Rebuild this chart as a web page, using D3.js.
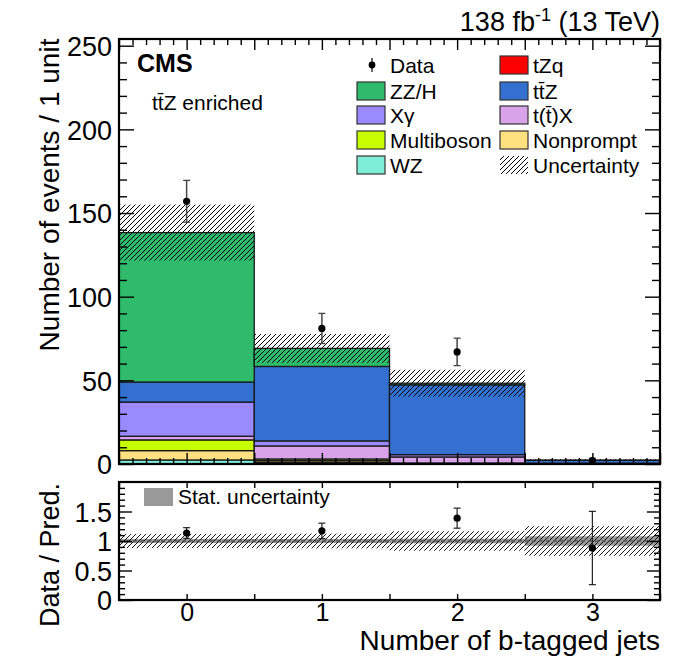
<!DOCTYPE html>
<html><head><meta charset="utf-8">
<script src="https://cdn.jsdelivr.net/npm/d3@7"></script>
<style>
body{margin:0;background:#fff}
text{font-family:"Liberation Sans",Arial,Helvetica,sans-serif;fill:#000}
</style>
</head><body><svg id="c" width="684" height="658"></svg>
<script>
// ---------------- data ----------------
const binCenters = [0, 1, 2, 3];
const xTickLabels = ["0", "1", "2", "3"];
const yTicksMain = [0, 50, 100, 150, 200, 250];
const yTicksRatio = [0, 0.5, 1, 1.5];
const yTickLabelsRatio = ["0", "0.5", "1", "1.5"];

// stacked backgrounds, bottom to top
const wz         = [2.4, 1.0, 0.2, 0.05];
const nonprompt  = [5.6, 1.0, 0.2, 0.05];
const multiboson = [6.4, 1.0, 0.2, 0.05];
const ttX        = [2.2, 7.8, 3.6, 0.2];
const xgamma     = [20.4, 3.0, 1.4, 0.1];
const ttZ        = [12.0, 44.5, 41.7, 1.8];
const zzh        = [89.3, 10.8, 1.0, 0.02];
const tzq        = [0.0, 0.0, 0.0, 0.0];

const totalUnc   = [16.7, 8.6, 8.0, 0.57];   // absolute, events
const statRelUnc = [0.035, 0.035, 0.04, 0.08];

const dataVals = [157, 81, 67, 2];
const dataErr  = [12.5, 9.0, 8.2, 1.41];

const processNames  = ["WZ", "Nonprompt", "Multiboson", "t(t\u0304)X", "X\u03b3", "tt\u0304Z", "ZZ/H", "tZq"];
const processColors = ["#7fedd7", "#ffe080", "#c8ff00", "#d8a3e8", "#9b8aff", "#3370d0", "#2fbb6b", "#ff0000"];
const processValues = [wz, nonprompt, multiboson, ttX, xgamma, ttZ, zzh, tzq];

// ---------------- layout ----------------
const svg = d3.select("#c");
const L = 119, R = 660;
const mainTop = 39, mainBot = 464;
const ratTop = 482, ratBot = 600;

const x  = d3.scaleLinear().domain([-0.5, 3.5]).range([L, R]);
const y  = d3.scaleLinear().domain([0, 254]).range([mainBot, mainTop]);
const yr = d3.scaleLinear().domain([0, 2]).range([ratBot, ratTop]);

const defs = svg.append("defs");
function hatch(id, sw) {
  const p = defs.append("pattern").attr("id", id).attr("patternUnits", "userSpaceOnUse")
    .attr("width", 5).attr("height", 5);
  p.append("path").attr("d", "M-1,1 l2,-2 M0,5 l5,-5 M4,6 l2,-2")
    .attr("stroke", "#000").attr("stroke-width", sw).attr("fill", "none");
}
hatch("hatch", 1.0);
hatch("hatchR", 0.9);

const clipM = defs.append("clipPath").attr("id", "clipM");
clipM.append("rect").attr("x", L).attr("y", mainTop).attr("width", R - L).attr("height", mainBot - mainTop);
const clipR = defs.append("clipPath").attr("id", "clipR");
clipR.append("rect").attr("x", L).attr("y", ratTop).attr("width", R - L).attr("height", ratBot - ratTop);

// ---------------- main panel ----------------
const gM = svg.append("g").attr("clip-path", "url(#clipM)");
const stackData = binCenters.map((c, i) => {
  const o = { c };
  processNames.forEach((n, k) => o[n] = processValues[k][i]);
  return o;
});
const stack = d3.stack().keys(processNames)(stackData);
stack.forEach((layer, k) => {
  gM.selectAll(null).data(layer).enter().append("rect")
    .attr("x", d => x(d.data.c - 0.5))
    .attr("width", d => x(d.data.c + 0.5) - x(d.data.c - 0.5))
    .attr("y", d => y(d[1]))
    .attr("height", d => Math.max(0, y(d[0]) - y(d[1])))
    .attr("fill", processColors[k])
    .attr("stroke", d => (d[1] - d[0]) > 0 ? "#1a1a1a" : "none")
    .attr("stroke-width", 1.3);
});
const totals = binCenters.map((c, i) => processValues.reduce((s, v) => s + v[i], 0));

// hatched uncertainty
gM.selectAll(null).data(binCenters).enter().append("rect")
  .attr("x", c => x(c - 0.5)).attr("width", c => x(c + 0.5) - x(c - 0.5))
  .attr("y", (c, i) => y(totals[i] + totalUnc[i]))
  .attr("height", (c, i) => y(totals[i] - totalUnc[i]) - y(totals[i] + totalUnc[i]))
  .attr("fill", "url(#hatch)");

// data
const gD = gM.append("g");
binCenters.forEach((c, i) => {
  const xc = x(c);
  gD.append("line").attr("x1", xc).attr("x2", xc)
    .attr("y1", y(dataVals[i] - dataErr[i])).attr("y2", y(dataVals[i] + dataErr[i]))
    .attr("stroke", "#444").attr("stroke-width", 1.5);
  [dataVals[i] - dataErr[i], dataVals[i] + dataErr[i]].forEach(v =>
    gD.append("line").attr("x1", xc - 3.5).attr("x2", xc + 3.5).attr("y1", y(v)).attr("y2", y(v))
      .attr("stroke", "#444").attr("stroke-width", 1.3));
  gD.append("circle").attr("cx", xc).attr("cy", y(dataVals[i])).attr("r", 3.6).attr("fill", "#000");
});

// axes
function axesFrame(ys, top, bot, yMajor, yMinor, yLabels, xMajor, xMinor, majLenY, minLenY, majLenX, minLenX, showXLabels) {
  const g = svg.append("g");
  const left = g.append("g").attr("transform", `translate(${L},0)`)
    .call(d3.axisLeft(ys).tickValues(yMajor).tickSize(-majLenY).tickPadding(7)
      .tickFormat((d, i) => yLabels[i]));
  left.selectAll("text").style("font-size", "27px").attr("dy", "0.36em");
  left.append("g").call(d3.axisLeft(ys).tickValues(yMinor).tickSize(-minLenY).tickFormat(""));
  const right = g.append("g").attr("transform", `translate(${R},0)`);
  right.call(d3.axisRight(ys).tickValues(yMajor).tickSize(-majLenY).tickFormat(""));
  right.append("g").call(d3.axisRight(ys).tickValues(yMinor).tickSize(-minLenY).tickFormat(""));
  const bottom = g.append("g").attr("transform", `translate(0,${bot})`);
  bottom.call(d3.axisBottom(x).tickValues(xMajor).tickSize(-majLenX).tickPadding(3)
    .tickFormat(d => showXLabels && Number.isInteger(d) ? xTickLabels[binCenters.indexOf(d)] : ""));
  bottom.selectAll("text").style("font-size", "25px");
  if (xMinor.length) bottom.append("g").call(d3.axisBottom(x).tickValues(xMinor).tickSize(-minLenX).tickFormat(""));
  const topA = g.append("g").attr("transform", `translate(0,${top})`);
  topA.call(d3.axisTop(x).tickValues(xMajor).tickSize(-majLenX).tickFormat(""));
  if (xMinor.length) topA.append("g").call(d3.axisTop(x).tickValues(xMinor).tickSize(-minLenX).tickFormat(""));
  g.selectAll(".domain").remove();
  g.selectAll(".tick line").attr("stroke", "#000").attr("stroke-width", 1.4);
  g.append("rect").attr("x", L).attr("y", top).attr("width", R - L).attr("height", bot - top)
    .attr("fill", "none").attr("stroke", "#000").attr("stroke-width", 2.2);
}
const mainMinorY = d3.range(0, 254, 10).filter(v => v % 50 !== 0);
const xHalf = d3.range(-0.5, 3.51, 0.5).map(v => +v.toFixed(2));
const xTenth = d3.range(-0.5, 3.501, 0.1).map(v => +v.toFixed(2)).filter(v => Math.abs(v * 2 - Math.round(v * 2)) > 1e-6);
axesFrame(y, mainTop, mainBot, yTicksMain, mainMinorY, yTicksMain.map(String), xHalf, xTenth, 15, 8, 11, 6, false);

// ---------------- ratio panel ----------------
const gR = svg.append("g").attr("clip-path", "url(#clipR)");
binCenters.forEach((c, i) => {
  gR.append("rect").attr("x", x(c - 0.5)).attr("width", x(c + 0.5) - x(c - 0.5))
    .attr("y", yr(1 + statRelUnc[i])).attr("height", yr(1 - statRelUnc[i]) - yr(1 + statRelUnc[i]))
    .attr("fill", "#999");
  const rel = totalUnc[i] / totals[i];
  gR.append("rect").attr("x", x(c - 0.5)).attr("width", x(c + 0.5) - x(c - 0.5))
    .attr("y", yr(1 + rel)).attr("height", yr(1 - rel) - yr(1 + rel))
    .attr("fill", "url(#hatchR)");
});
gR.append("line").attr("x1", L).attr("x2", R).attr("y1", yr(1)).attr("y2", yr(1))
  .attr("stroke", "#555").attr("stroke-width", 1.5).attr("stroke-dasharray", "4,3");
binCenters.forEach((c, i) => {
  const xc = x(c), r = dataVals[i] / totals[i], e = dataErr[i] / totals[i];
  gR.append("line").attr("x1", xc).attr("x2", xc).attr("y1", yr(r - e)).attr("y2", yr(r + e))
    .attr("stroke", "#222").attr("stroke-width", 1.2);
  [r - e, r + e].forEach(v => gR.append("line").attr("x1", xc - 3.5).attr("x2", xc + 3.5)
    .attr("y1", yr(v)).attr("y2", yr(v)).attr("stroke", "#222").attr("stroke-width", 1.2));
  gR.append("circle").attr("cx", xc).attr("cy", yr(r)).attr("r", 3.6).attr("fill", "#000");
});
const ratMinorY = d3.range(0.1, 2.0, 0.1).map(v => +v.toFixed(2)).filter(v => Math.abs(v * 2 - Math.round(v * 2)) > 1e-6);
axesFrame(yr, ratTop, ratBot, yTicksRatio, ratMinorY, yTickLabelsRatio, xHalf, [], 13, 6, 6, 0, true);

// ---------------- texts ----------------
svg.append("text").attr("x", 59).attr("y", 195).attr("transform", "rotate(-90,59,195)")
  .attr("text-anchor", "middle").style("font-size", "28px").text("Number of events / 1 unit");
svg.append("text").attr("x", 59).attr("y", 555).attr("transform", "rotate(-90,59,555)")
  .attr("text-anchor", "middle").style("font-size", "27px").text("Data / Pred.");
svg.append("text").attr("x", R).attr("y", 650).attr("text-anchor", "end")
  .style("font-size", "28px").text("Number of b-tagged jets");

const lumi = svg.append("text").attr("x", R).attr("y", 31).attr("text-anchor", "end").style("font-size", "27px");
lumi.append("tspan").text("138 fb");
lumi.append("tspan").attr("dy", -10).style("font-size", "18px").text("-1");
lumi.append("tspan").attr("dy", 10).text(" (13 TeV)");

svg.append("text").attr("x", 137).attr("y", 72).style("font-size", "25px").style("font-weight", "bold").text("CMS");
svg.append("text").attr("x", 152).attr("y", 110).style("font-size", "21px").text("t\u0074\u0304Z enriched");

// ---------------- legend ----------------
const legCol = [357, 500];
const legRows = [65, 91, 115, 140, 165];
const legendCol1 = ["Data", "ZZ/H", "X\u03b3", "Multiboson", "WZ"];
const legendCol2 = ["tZq", "tt\u0304Z", "t(t\u0304)X", "Nonprompt", "Uncertainty"];
const gL = svg.append("g");
function legEntry(col, row, label) {
  const bx = legCol[col], cy = legRows[row];
  if (label === "Data") {
    gL.append("line").attr("x1", bx + 15).attr("x2", bx + 15).attr("y1", cy - 7).attr("y2", cy + 7)
      .attr("stroke", "#000").attr("stroke-width", 1.2);
    gL.append("circle").attr("cx", bx + 15).attr("cy", cy).attr("r", 3.4).attr("fill", "#000");
  } else if (label === "Uncertainty") {
    gL.append("rect").attr("x", bx).attr("y", cy - 9).attr("width", 28).attr("height", 18).attr("fill", "url(#hatch)");
  } else {
    const k = processNames.indexOf(label);
    gL.append("rect").attr("x", bx).attr("y", cy - 9).attr("width", 28).attr("height", 18)
      .attr("fill", processColors[k]).attr("stroke", "#333").attr("stroke-width", 1.2);
  }
  gL.append("text").attr("x", bx + 33).attr("y", cy + 7.5).style("font-size", "21px").text(label);
}
legendCol1.forEach((l, i) => legEntry(0, i, l));
legendCol2.forEach((l, i) => legEntry(1, i, l));

// ratio legend
svg.append("rect").attr("x", 144).attr("y", 488).attr("width", 29).attr("height", 18).attr("fill", "#999");
svg.append("text").attr("x", 178).attr("y", 504).style("font-size", "21px").text("Stat. uncertainty");
</script>
</body></html>
